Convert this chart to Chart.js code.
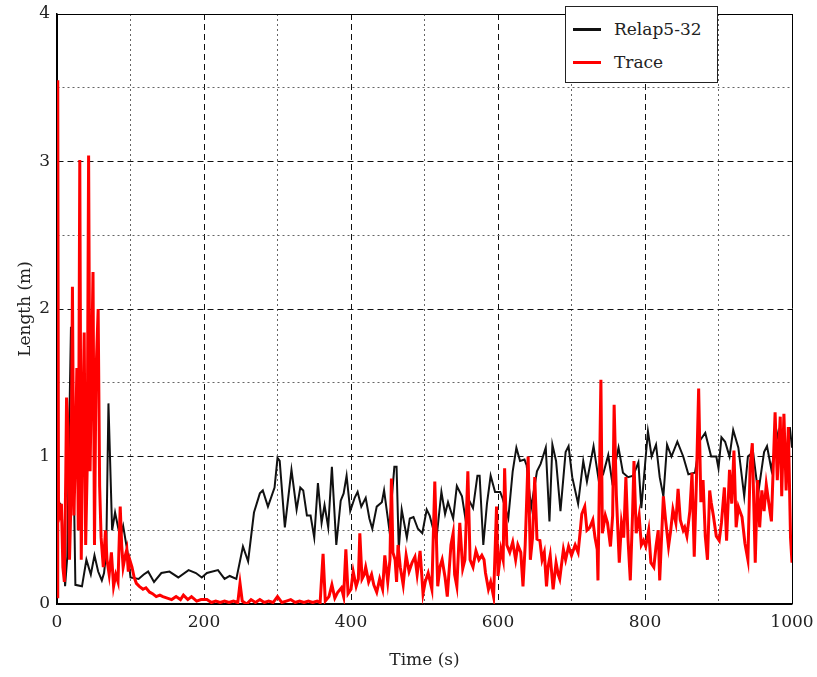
<!DOCTYPE html>
<html>
<head>
<meta charset="utf-8">
<script src="https://cdn.jsdelivr.net/npm/chart.js@4/dist/chart.umd.min.js"></script>
<style>
    body { margin: 0; background: #fff; }
    #wrap { position: relative; width: 817px; height: 677px; }
    #legend {
        position: absolute; left: 565px; top: 6px; width: 151px; height: 75px;
        border: 1px solid #222; background: #fff;
        font-family: "DejaVu Serif", serif; font-size: 17px; color: #222;
    }
    .item { position: absolute; left: 0; width: 151px; height: 22px; }
    .swatch { position: absolute; left: 7px; top: 10px; width: 28px; height: 3px; }
    .label { position: absolute; left: 48px; top: 0; line-height: 22px; }
</style>
</head>
<body>
<div id="wrap">
    <canvas id="lengthChart" width="817" height="677"></canvas>
    <div id="legend">
        <div class="item" style="top:11px"><div class="swatch" style="background:#111"></div><div class="label">Relap5-32</div></div>
        <div class="item" style="top:44px"><div class="swatch" style="background:#ff0000"></div><div class="label">Trace</div></div>
    </div>
</div>
<script>
const seriesNames = ["Relap5-32", "Trace"];
const xTickLabels = [0, 200, 400, 600, 800, 1000];
const yTickLabels = [0, 1, 2, 3, 4];

// Relap5-32 (black)
const relapTime = [
    0, 2, 6, 11, 14, 16, 19, 22, 25, 34,
    40, 46, 51, 56, 61, 64, 67, 70, 75, 79,
    86, 90, 97, 100, 111, 118, 124, 132, 142, 153,
    165, 179, 189, 197, 204, 219, 228, 235, 244, 253,
    260, 268, 276, 280, 287, 296, 300, 303, 310, 319,
    326, 331, 335, 340, 345, 350, 355, 360, 364, 369,
    374, 380, 386, 390, 394, 399, 405, 409, 414, 420,
    425, 429, 435, 442, 445, 452, 459, 462, 465, 469,
    476, 480, 485, 491, 497, 503, 507, 516, 523, 528,
    532, 539, 544, 551, 556, 560, 566, 572, 575, 580,
    585, 590, 596, 603, 606, 614, 620, 625, 630, 636,
    639, 645, 653, 658, 665, 670, 674, 679, 685, 692,
    696, 701, 709, 716, 721, 730, 737, 743, 750, 755,
    764, 770, 777, 784, 791, 795, 801, 804, 809, 815,
    820, 825, 830, 836, 844, 852, 859, 868, 875, 882,
    890, 897, 900, 904, 909, 915, 920, 927, 935, 940,
    947, 954, 962, 966, 972, 978, 981, 986, 993, 997,
    1000
];
const relapLength = [
    0.70, 0.69, 0.67, 0.12, 0.32, 1.00, 1.88, 1.10, 0.13, 0.12,
    0.30, 0.20, 0.33, 0.22, 0.16, 0.21, 0.35, 1.36, 0.50, 0.62,
    0.45, 0.53, 0.32, 0.18, 0.17, 0.20, 0.22, 0.15, 0.21, 0.22,
    0.18, 0.23, 0.21, 0.18, 0.21, 0.23, 0.17, 0.19, 0.17, 0.39,
    0.29, 0.62, 0.75, 0.77, 0.66, 0.79, 0.99, 0.97, 0.52, 0.91,
    0.64, 0.79, 0.77, 0.60, 0.60, 0.45, 0.82, 0.55, 0.67, 0.52,
    0.93, 0.40, 0.70, 0.75, 0.87, 0.63, 0.72, 0.76, 0.66, 0.72,
    0.58, 0.51, 0.66, 0.69, 0.77, 0.51, 0.93, 0.93, 0.37, 0.64,
    0.45, 0.58, 0.59, 0.51, 0.48, 0.64, 0.60, 0.43, 0.76, 0.61,
    0.69, 0.58, 0.80, 0.73, 0.57, 0.71, 0.65, 0.87, 0.87, 0.40,
    0.68, 0.87, 0.76, 0.76, 0.72, 0.58, 0.90, 1.06, 0.97, 0.98,
    0.94, 0.65, 0.90, 0.95, 1.06, 0.56, 1.08, 0.97, 0.63, 1.03,
    1.07, 0.86, 0.68, 0.97, 0.83, 1.07, 0.84, 0.88, 1.01, 0.84,
    1.06, 0.89, 0.86, 0.87, 0.96, 0.65, 1.00, 1.17, 1.00, 1.08,
    0.86, 0.73, 1.08, 1.00, 1.10, 1.00, 0.88, 0.89, 1.11, 1.16,
    1.00, 1.00, 0.92, 1.13, 1.10, 1.00, 1.18, 1.06, 0.73, 1.00,
    1.03, 0.75, 1.03, 1.07, 0.91, 1.09, 1.16, 1.00, 0.93, 1.20,
    1.06
];

// Trace (red)
const traceTime = [
    0, 1, 2, 4, 6, 8, 10, 12, 13, 15,
    17, 19, 21, 23, 25, 27, 29, 31, 33, 35,
    37, 39, 41, 43, 45, 47, 49, 51, 53, 56,
    58, 60, 63, 66, 68, 71, 74, 77, 80, 83,
    86, 88, 90, 93, 95, 97, 99, 102, 105, 108,
    112, 117, 121, 126, 130, 135, 140, 144, 150, 156,
    162, 168, 172, 178, 183, 190, 196, 204, 210, 216,
    222, 228, 234, 240, 246, 249, 252, 258, 264, 270,
    276, 282, 288, 294, 300, 306, 312, 318, 324, 330,
    336, 342, 348, 354, 358, 362, 365, 370, 374, 378,
    382, 387, 390, 393, 396, 400, 403, 407, 410, 412,
    415, 418, 420, 424, 428, 431, 435, 439, 443, 446,
    450, 453, 455, 457, 460, 462, 464, 467, 471, 475,
    479, 483, 487, 490, 494, 498, 501, 505, 510, 514,
    518, 521, 524, 528, 531, 536, 539, 541, 544, 548,
    552, 555, 559, 562, 566, 570, 574, 578, 581, 583,
    587, 590, 594, 598, 600, 604, 607, 609, 612, 616,
    620, 624, 627, 631, 634, 637, 641, 644, 647, 650,
    653, 657, 660, 663, 666, 668, 671, 675, 679, 682,
    684, 689, 692, 696, 700, 705, 709, 712, 714, 718,
    721, 725, 729, 732, 735, 736, 740, 742, 746, 749,
    753, 756, 758, 761, 765, 768, 771, 774, 777, 780,
    783, 785, 788, 792, 795, 798, 801, 805, 808, 812,
    815, 818, 820, 825, 828, 832, 835, 838, 842, 845,
    848, 852, 854, 857, 861, 864, 867, 870, 873, 876,
    879, 882, 885, 888, 890, 893, 897, 901, 904, 908,
    911, 915, 918, 921, 924, 927, 932, 936, 940, 943,
    946, 950, 953, 956, 959, 962, 965, 968, 972, 977,
    980, 984, 986, 989, 992, 995, 998, 1000
];
const traceLength = [
    0.05, 3.55, 0.70, 0.62, 0.68, 0.25, 0.15, 0.90, 1.40, 1.20,
    0.30, 0.70, 2.15, 0.60, 1.00, 1.60, 0.50, 3.01, 0.30, 1.20,
    1.84, 0.40, 0.90, 3.04, 0.90, 1.60, 2.25, 0.40, 1.55, 2.00,
    0.80, 0.45, 0.25, 0.50, 0.30, 0.20, 0.35, 0.12, 0.20, 0.15,
    0.66, 0.40, 0.25, 0.33, 0.37, 0.22, 0.30, 0.25, 0.18, 0.14,
    0.12, 0.10, 0.11, 0.08, 0.07, 0.05, 0.06, 0.05, 0.04, 0.03,
    0.05, 0.03, 0.06, 0.03, 0.05, 0.02, 0.03, 0.03, 0.01, 0.02,
    0.01, 0.02, 0.01, 0.02, 0.01, 0.14, 0.02, 0.00, 0.03, 0.01,
    0.03, 0.01, 0.02, 0.01, 0.05, 0.01, 0.02, 0.03, 0.01, 0.02,
    0.01, 0.02, 0.01, 0.02, 0.01, 0.34, 0.02, 0.05, 0.13, 0.04,
    0.08, 0.11, 0.05, 0.37, 0.07, 0.10, 0.22, 0.12, 0.17, 0.48,
    0.17, 0.20, 0.25, 0.15, 0.20, 0.13, 0.08, 0.17, 0.10, 0.33,
    0.15, 0.30, 0.85, 0.35, 0.30, 0.15, 0.40, 0.25, 0.13, 0.33,
    0.22, 0.28, 0.32, 0.20, 0.36, 0.07, 0.15, 0.21, 0.10, 0.83,
    0.12, 0.25, 0.30, 0.18, 0.05, 0.40, 0.48, 0.20, 0.12, 0.55,
    0.24, 0.30, 0.90, 0.30, 0.25, 0.36, 0.30, 0.33, 0.30, 0.21,
    0.10, 0.15, 0.05, 0.66, 0.19, 0.37, 0.30, 0.92, 0.40, 0.35,
    0.42, 0.30, 0.40, 0.35, 0.12, 0.40, 1.00, 0.30, 0.45, 0.86,
    0.44, 0.43, 0.30, 0.35, 0.12, 0.25, 0.33, 0.10, 0.28, 0.20,
    0.17, 0.37, 0.30, 0.39, 0.33, 0.40, 0.35, 0.50, 0.61, 0.66,
    0.50, 0.52, 0.57, 0.45, 0.37, 0.16, 1.52, 0.48, 0.60, 0.55,
    0.39, 0.60, 1.35, 0.74, 0.28, 0.55, 0.45, 0.86, 0.43, 0.16,
    0.60, 0.97, 0.48, 0.60, 0.40, 0.43, 0.39, 0.50, 0.28, 0.25,
    0.39, 0.50, 0.16, 0.73, 0.57, 0.39, 0.50, 0.64, 0.55, 0.78,
    0.57, 0.50, 0.52, 0.46, 0.63, 0.89, 0.32, 0.84, 1.46, 0.69,
    0.84, 0.46, 0.30, 0.77, 0.69, 0.60, 0.46, 0.43, 0.55, 0.79,
    0.43, 0.91, 0.68, 1.04, 0.52, 0.66, 0.59, 0.41, 0.30, 0.93,
    1.09, 0.28, 0.84, 0.52, 0.77, 0.63, 0.81, 0.70, 0.56, 1.30,
    0.84, 1.27, 0.73, 1.29, 0.77, 1.20, 0.45, 0.28
];

const fontFamily = "'DejaVu Serif', serif";
const textColor = "#222";

function toPoints(times, values) {
    return times.map((t, i) => ({ x: t, y: values[i] }));
}

// major grid dashed, minor grid dotted, edges solid frame
function isMajor(v, major) {
    return Math.abs(v / major - Math.round(v / major)) < 1e-6;
}
function gridColor(ctx, major, lo, hi) {
    if (!ctx.tick) return "#000";
    const v = ctx.tick.value;
    if (v === lo || v === hi) return "#000";
    return isMajor(v, major) ? "#111" : "#666";
}
function gridDash(ctx, major, lo, hi) {
    if (!ctx.tick) return [];
    const v = ctx.tick.value;
    if (v === lo || v === hi) return [];
    return isMajor(v, major) ? [6, 4] : [2, 3];
}

new Chart(document.getElementById("lengthChart"), {
    type: "line",
    data: {
        datasets: [
            {
                label: seriesNames[0],
                data: toPoints(relapTime, relapLength),
                borderColor: "#111",
                borderWidth: 2,
                pointRadius: 0,
                tension: 0,
                order: 1
            },
            {
                label: seriesNames[1],
                data: toPoints(traceTime, traceLength),
                borderColor: "#ff0000",
                borderWidth: 3,
                pointRadius: 0,
                tension: 0,
                order: 0
            }
        ]
    },
    options: {
        responsive: false,
        animation: false,
        layout: { padding: { left: 11, right: 25, top: 14, bottom: 0 } },
        plugins: {
            legend: { display: false },
            tooltip: { enabled: false }
        },
        scales: {
            x: {
                type: "linear",
                min: 0,
                max: 1000,
                afterFit: (scale) => {
                    scale.height = 73;
                    scale.paddingLeft = 0;
                    scale.paddingRight = 0;
                },
                ticks: {
                    stepSize: 100,
                    autoSkip: false,
                    maxRotation: 0,
                    padding: 8,
                    color: textColor,
                    font: { family: fontFamily, size: 17 },
                    callback: (v) => xTickLabels.includes(v) ? String(v) : ""
                },
                grid: {
                    drawTicks: false,
                    lineWidth: 1,
                    color: (ctx) => gridColor(ctx, 200, 0, 1000)
                },
                border: {
                    display: true,
                    color: "#000",
                    width: 1.5,
                    dash: (ctx) => gridDash(ctx, 200, 0, 1000)
                },
                title: {
                    display: true,
                    text: "Time (s)",
                    color: textColor,
                    font: { family: fontFamily, size: 17 },
                    padding: { top: 4, bottom: 6 }
                }
            },
            y: {
                min: 0,
                max: 4,
                afterFit: (scale) => {
                    scale.width = 46;
                    scale.paddingTop = 0;
                    scale.paddingBottom = 0;
                },
                ticks: {
                    stepSize: 0.5,
                    autoSkip: false,
                    padding: 7,
                    color: textColor,
                    font: { family: fontFamily, size: 17 },
                    callback: (v) => yTickLabels.includes(v) ? String(v) : ""
                },
                grid: {
                    drawTicks: false,
                    lineWidth: 1,
                    color: (ctx) => gridColor(ctx, 1, 0, 4)
                },
                border: {
                    display: true,
                    color: "#000",
                    width: 1.5,
                    dash: (ctx) => gridDash(ctx, 1, 0, 4)
                },
                title: {
                    display: true,
                    text: "Length (m)",
                    color: textColor,
                    font: { family: fontFamily, size: 17 },
                    padding: { top: 4, bottom: 4 }
                }
            }
        }
    }
});
</script>
</body>
</html>
